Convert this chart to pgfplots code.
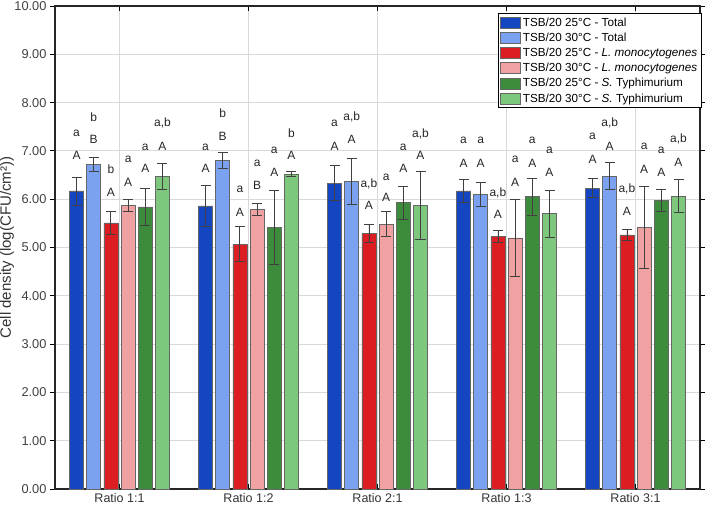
\documentclass[border=0pt]{standalone}
\usepackage{fontspec}
\setmainfont{Liberation Sans}
\usepackage{pgfplots}
\pgfplotsset{compat=1.18}
\usepackage{pgfplotstable}
\usetikzlibrary{calc}

\definecolor{cDB}{HTML}{1446C2}
\definecolor{cLB}{HTML}{7BA2F0}
\definecolor{cRD}{HTML}{DC1E23}
\definecolor{cPK}{HTML}{F0A2A2}
\definecolor{cDG}{HTML}{3C8C3C}
\definecolor{cLG}{HTML}{7DC87D}

% x (group + offset)  mean  sd
\pgfplotstableread{
x y e
-0.3333 6.17 0.29
0.6667 5.86 0.42
1.6667 6.33 0.36
2.6667 6.17 0.24
3.6667 6.23 0.20
}\dataDB
\pgfplotstableread{
x y e
-0.2 6.72 0.14
0.8 6.80 0.17
1.8 6.37 0.48
2.8 6.10 0.25
3.8 6.48 0.28
}\dataLB
\pgfplotstableread{
x y e
-0.0667 5.51 0.24
0.9333 5.07 0.36
1.9333 5.29 0.19
2.9333 5.23 0.12
3.9333 5.26 0.11
}\dataRD
\pgfplotstableread{
x y e
0.0667 5.87 0.12
1.0667 5.79 0.12
2.0667 5.48 0.26
3.0667 5.20 0.80
4.0667 5.41 0.85
}\dataPK
\pgfplotstableread{
x y e
0.2 5.84 0.38
1.2 5.42 0.77
2.2 5.93 0.34
3.2 6.05 0.39
4.2 5.97 0.23
}\dataDG
\pgfplotstableread{
x y e
0.3333 6.48 0.27
1.3333 6.52 0.05
2.3333 5.87 0.71
3.3333 5.70 0.49
4.3333 6.06 0.34
}\dataLG

% significance letters
\pgfplotstableread{
x y t
-0.333 7.36 a
-0.333 6.90 A
-0.2 7.70 b
-0.2 7.24 B
-0.067 6.62 b
-0.067 6.14 A
0.067 6.82 a
0.067 6.34 A
0.2 7.08 a
0.2 6.63 A
0.333 7.57 a,b
0.333 7.09 A
0.667 7.08 a
0.667 6.63 A
0.8 7.79 b
0.8 7.30 B
0.933 6.21 a
0.933 5.72 A
1.067 6.74 a
1.067 6.29 B
1.2 7.01 a
1.2 6.55 A
1.333 7.37 b
1.333 6.90 A
1.667 7.58 a
1.667 7.09 A
1.8 7.70 a,b
1.8 7.24 A
1.933 6.32 a,b
1.933 5.88 A
2.067 6.46 a
2.067 6.03 A
2.2 7.08 a
2.2 6.63 A
2.333 7.36 a,b
2.333 6.90 A
2.667 7.22 a
2.667 6.75 A
2.8 7.22 a
2.8 6.75 A
2.933 6.13 a,b
2.933 5.68 A
3.067 6.82 a
3.067 6.34 A
3.2 7.22 a
3.2 6.75 A
3.333 7.01 a
3.333 6.55 A
3.667 7.30 a
3.667 6.83 A
3.8 7.57 a,b
3.8 7.10 A
3.933 6.21 a,b
3.933 5.74 A
4.067 7.09 a
4.067 6.62 A
4.2 7.02 a
4.2 6.55 A
4.333 7.25 a,b
4.333 6.76 A
}\letters

\pgfplotsset{
  mybar/.style={ybar, bar width=0.1085, bar shift=0, draw=black!60, line width=0.6pt,
    legend image code/.code={\draw[##1, line width=0.6pt] (0pt,-5.5pt) rectangle (20pt,5.5pt);},
    error bars/y dir=both, error bars/y explicit,
    error bars/error bar style={line width=0.8pt, black!75},
    error bars/error mark options={rotate=90, mark size=5pt, line width=0.8pt, black!75}},
}

\begin{document}
\begin{tikzpicture}
\begin{axis}[
  scale only axis, width=645pt, height=483pt,
  xmin=-0.5, xmax=4.5, ymin=0, ymax=10,
  xtick={0,...,4},
  xticklabels={Ratio 1:1, Ratio 1:2, Ratio 2:1, Ratio 1:3, Ratio 3:1},
  ytick={0,1,...,10},
  xtick align=inside, ytick align=outside,
  xtick pos=both, ytick pos=both,
  xticklabel pos=lower, yticklabel pos=left,
  major tick length=5pt,
  tick style={black, line width=0.8pt},
  grid=major, major grid style={gray!30, line width=0.8pt},
  axis line style={black!85, line width=1.5pt},
  /pgf/number format/assume math mode=true,
  yticklabel style={/pgf/number format/fixed, /pgf/number format/fixed zerofill,
    /pgf/number format/precision=2, font=\fontsize{12.8}{15}\selectfont, text=black!75},
  xticklabel style={font=\fontsize{12.5}{14}\selectfont, text=black!80, yshift=-1pt},
  ylabel={Cell density (log(CFU/cm²))},
  every axis y label/.style={at={(rel axis cs:0,0.5)}, rotate=90, anchor=center,
    yshift=48pt, font=\fontsize{15}{17}\selectfont, text=black!80},
  legend style={at={(1,1)}, anchor=north east, xshift=2pt, yshift=-7pt,
    draw=black, line width=1.4pt, fill=white,
    font=\fontsize{11.7}{13}\selectfont, row sep=1.2pt, inner sep=2pt},
  legend cell align=left,
]
\addplot[mybar, fill=cDB] table[x=x, y=y, y error=e] {\dataDB};
\addplot[mybar, fill=cLB] table[x=x, y=y, y error=e] {\dataLB};
\addplot[mybar, fill=cRD] table[x=x, y=y, y error=e] {\dataRD};
\addplot[mybar, fill=cPK] table[x=x, y=y, y error=e] {\dataPK};
\addplot[mybar, fill=cDG] table[x=x, y=y, y error=e] {\dataDG};
\addplot[mybar, fill=cLG] table[x=x, y=y, y error=e] {\dataLG};
\addplot[draw=none, mark=none, forget plot, nodes near coords, point meta=explicit symbolic,
  every node near coord/.append style={anchor=center, inner sep=0pt, text=black!85,
    font=\fontsize{12}{14}\selectfont}]
  table[x=x, y=y, meta=t] {\letters};
\legend{TSB/20 25°C - Total, TSB/20 30°C - Total,
  TSB/20 25°C -  \textit{L. monocytogenes}, TSB/20 30°C -  \textit{L. monocytogenes},
  TSB/20 25°C -  \textit{S.} Typhimurium, TSB/20 30°C -  \textit{S.} Typhimurium}
\end{axis}
\pgfresetboundingbox
\path ($(current axis.south west)+(-55pt,-22pt)$) rectangle ($(current axis.north east)+(8pt,6pt)$);
\end{tikzpicture}
\end{document}
